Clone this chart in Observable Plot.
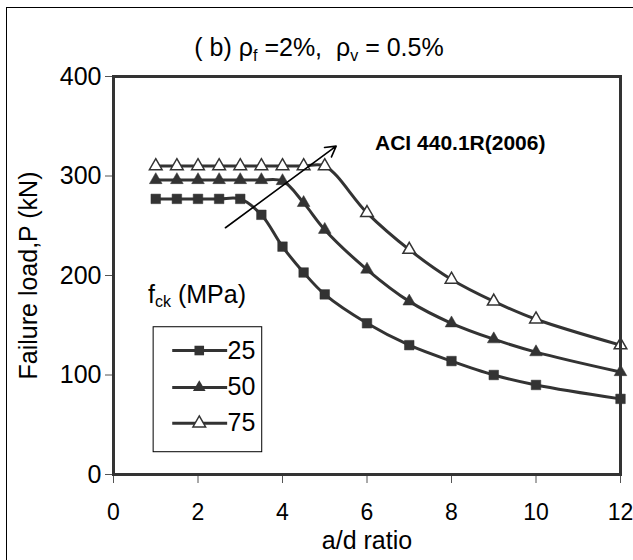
<!DOCTYPE html>
<html>
<head>
<meta charset="utf-8">
<script src="https://cdn.jsdelivr.net/npm/d3@7"></script>
<script src="https://cdn.jsdelivr.net/npm/@observablehq/plot@0.6"></script>
<style>
  html, body { margin: 0; padding: 0; background: #fff; }
  #wrap { position: relative; width: 633px; height: 560px; overflow: hidden; font-family: "Liberation Sans", Arial, sans-serif; }
  #outer { position: absolute; left: 6px; top: 7px; width: 700px; height: 700px; border: 1.5px solid #000; box-sizing: border-box; }
  #chart { position: absolute; left: 0; top: 0; }
</style>
</head>
<body>
<div id="wrap"><div id="outer"></div><div id="chart"></div></div>
<script>
// ---- data ----
const aOverD = [1, 1.5, 2, 2.5, 3, 3.5, 4, 4.5, 5, 6, 7, 8, 9, 10, 12];
const load25 = [277, 277, 277, 277, 277, 261, 229, 203, 181, 152, 130, 114, 100, 90, 76];
const load50 = [296, 296, 296, 296, 296, 296, 295, 273, 246, 206, 174, 152, 136, 123, 103];
const load75 = [310, 310, 310, 310, 310, 310, 310, 310, 310, 263, 226, 196, 174, 156, 130];
const seriesNames = ["25", "50", "75"];
const xTicks = [0, 2, 4, 6, 8, 10, 12];
const yTicks = [0, 100, 200, 300, 400];
const annotationText = "ACI 440.1R(2006)";
const arrowFrom = {x: 2.65, y: 248};
const arrowTo = {x: 5.27, y: 330};

const toRows = (vals, name) => aOverD.map((x, i) => ({x, y: vals[i], s: name}));
const d25 = toRows(load25, "25");
const d50 = toRows(load50, "50");
const d75 = toRows(load75, "75");

const ink = "#333";
const font = "Liberation Sans, Arial, sans-serif";
const fs = 25;

// legend layout (in value units of the chart's scales)
const lg = {x1: 0.95, x2: 3.52, y1: 22.4, y2: 148, lineX1: 1.39, lineX2: 2.69, markX: 2.03, textX: 2.70, rows: [124.6, 87.5, 51.5], headX: 0.83, headY: 171.6};
const legendRows = seriesNames.map((s, i) => ({s, y: lg.rows[i]}));

const lineOpts = {x: "x", y: "y", stroke: ink, strokeWidth: 3, curve: "catmull-rom"};

const plot = Plot.plot({
  width: 633,
  height: 560,
  marginLeft: 113,
  marginRight: 13,
  marginTop: 76,
  marginBottom: 86,
  style: {fontFamily: font, color: "#000", background: "transparent", overflow: "visible"},
  x: {domain: [0, 12]},
  y: {domain: [0, 400]},
  marks: [
    Plot.axisX({ticks: xTicks, tickSize: 9, tickPadding: 20, fontSize: 23, stroke: "#555", label: null, tickFormat: d => String(d)}),
    Plot.axisX({ticks: [], tickSize: 0, fontSize: fs, label: "a/d ratio", labelAnchor: "center", labelArrow: "none", labelOffset: 74}),
    Plot.axisY({ticks: yTicks, tickSize: 8, tickPadding: 4, fontSize: fs, stroke: "#555", label: "Failure load,P (kN)", labelAnchor: "center", labelArrow: "none", labelOffset: 94, tickFormat: d => String(d)}),
    Plot.line(d25, lineOpts),
    Plot.line(d50, lineOpts),
    Plot.line(d75, lineOpts),
    Plot.dot(d25, {x: "x", y: "y", symbol: "square", r: 5.4, fill: ink, stroke: ink, strokeWidth: 0.5}),
    Plot.dot(d50, {x: "x", y: "y", symbol: "triangle", r: 4.7, fill: ink, stroke: ink, strokeWidth: 0.5}),
    Plot.dot(d75, {x: "x", y: "y", symbol: "triangle", r: 4.7, fill: "#fff", stroke: ink, strokeWidth: 1.5}),
    Plot.arrow([0], {x1: () => arrowFrom.x, y1: () => arrowFrom.y, x2: () => arrowTo.x, y2: () => arrowTo.y, stroke: "#000", strokeWidth: 1.6, headLength: 11, bend: 0}),
    Plot.text([annotationText], {x: 6.19, y: 333, text: d => d, textAnchor: "start", fontWeight: "bold", fontSize: 21, fill: "#000"}),
    // legend
    Plot.rect([0], {x1: () => lg.x1, x2: () => lg.x2, y1: () => lg.y1, y2: () => lg.y2, fill: "#fff", stroke: "#000", strokeWidth: 1}),
    Plot.link(legendRows, {x1: () => lg.lineX1, x2: () => lg.lineX2, y1: "y", y2: "y", stroke: ink, strokeWidth: 3}),
    Plot.dot(legendRows.filter(d => d.s === "25"), {x: () => lg.markX, y: "y", symbol: "square", r: 5.4, fill: ink}),
    Plot.dot(legendRows.filter(d => d.s === "50"), {x: () => lg.markX, y: "y", symbol: "triangle", r: 4.7, fill: ink}),
    Plot.dot(legendRows.filter(d => d.s === "75"), {x: () => lg.markX, y: "y", symbol: "triangle", r: 4.7, fill: "#fff", stroke: ink, strokeWidth: 1.5}),
    Plot.text(legendRows, {x: () => lg.textX, y: "y", text: "s", textAnchor: "start", fontSize: fs, fill: "#000"}),
    Plot.frame({stroke: ink, strokeWidth: 3})
  ]
});

document.getElementById("chart").appendChild(plot);

// title and legend heading with subscripts, placed through the plot's scales
const sx = plot.scale("x"), sy = plot.scale("y");
const svg = d3.select(plot);
const title = svg.append("text")
  .attr("x", 319).attr("y", 56)
  .attr("text-anchor", "middle")
  .attr("font-family", font).attr("font-size", 25).attr("fill", "#000");
title.append("tspan").text("( b) ρ");
title.append("tspan").attr("font-size", 16).attr("dy", 5).text("f");
title.append("tspan").attr("dy", -5).text(" =2%,  ρ");
title.append("tspan").attr("font-size", 16).attr("dy", 5).text("v");
title.append("tspan").attr("dy", -5).text(" = 0.5%");

const head = svg.append("text")
  .attr("x", sx.apply(lg.headX)).attr("y", sy.apply(lg.headY))
  .attr("text-anchor", "start")
  .attr("font-family", font).attr("font-size", fs).attr("fill", "#000");
head.append("tspan").text("f");
head.append("tspan").attr("font-size", 16).attr("dy", 4).text("ck");
head.append("tspan").attr("dy", -4).text(" (MPa)");
</script>
</body>
</html>
